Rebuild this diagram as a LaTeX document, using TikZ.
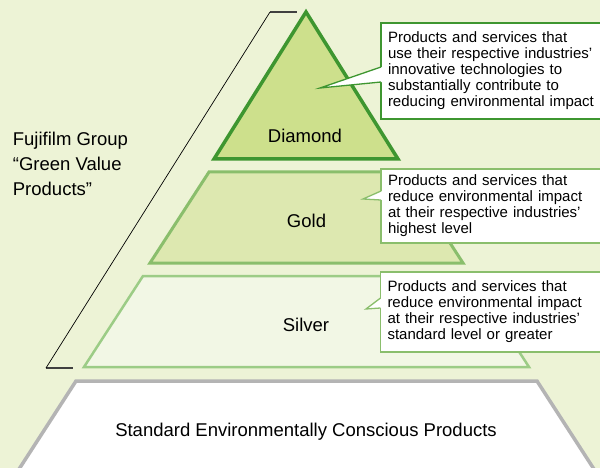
\documentclass[tikz,border=0pt]{standalone}
\usepackage{fontspec}
\setmainfont{Liberation Sans}
\usetikzlibrary{calc}
\definecolor{bgcol}{RGB}{237,243,214}
\definecolor{darkgr}{RGB}{62,150,48}
\definecolor{diafill}{RGB}{205,224,140}
\definecolor{goldline}{RGB}{138,190,108}
\definecolor{goldfill}{RGB}{221,232,176}
\definecolor{silvline}{RGB}{156,204,134}
\definecolor{silvfill}{RGB}{242,247,229}
\definecolor{basecol}{RGB}{180,180,180}
\tikzset{
  blurb/.style={draw, fill=white, line width=1.3pt, anchor=north west, outer sep=0pt,
    text width=210pt, inner xsep=7pt, inner ysep=9pt, align=left,
    font=\fontsize{15}{16}\selectfont},
  tag/.style={font=\fontsize{18.5}{25}\selectfont, anchor=base, inner sep=0pt},
}
\begin{document}
\begin{tikzpicture}[x=1pt,y=-1pt]
                    \useasboundingbox (0,0) rectangle (600,468);
                    \fill[bgcol] (0,0) rectangle (600,468);
                    \clip (0,0) rectangle (600,468);
                    % bracket
                    \draw[black!75, line width=1.3pt] (270,12) -- (297,12);
                    \draw[black!75, line width=1.3pt] (46,368) -- (73,368);
                    \draw[black, line width=0.7pt] (270,12) -- (46,368);
                    % tiers
                    \draw[basecol, fill=white, line width=3.5pt] (76,381) -- (537,381) -- (601,480) -- (12,480) -- cycle;
                    \draw[silvline, fill=silvfill, line width=2.5pt] (143,276) -- (470,276) -- (529,367) -- (84,367) -- cycle;
                    \draw[goldline, fill=goldfill, line width=3pt] (209,172) -- (404,172) -- (463,263) -- (150,263) -- cycle;
                    \draw[darkgr, fill=diafill, line width=3.5pt, line join=miter] (306,12) -- (398,159) -- (214,159) -- cycle;
                    % labels
                    \node[tag] (diamond) at (305,142.7) {Diamond};
                    \node[tag] (gold) at (306.5,227) {Gold};
                    \node[tag] (silver) at (306,331.7) {Silver};
                    \node[tag] (standard) at (306,436) {Standard Environmentally Conscious Products};
                    \node[tag, anchor=north west, align=left] (group) at (12.7,132.2) {Fujifilm Group\\“Green Value\\Products”};
                    % callouts
                    \node[blurb, draw=darkgr] (boxD) at (381,23) {Products and services that\\use their respective industries’\\innovative technologies to\\substantially contribute to\\reducing environmental impact};
                    \node[blurb, draw=goldline, inner ysep=6pt, yshift=-3pt] (boxG) at (381,166) {Products and services that\\reduce environmental impact\\at their respective industries’\\highest level};
                    \node[blurb, draw=goldline] (boxS) at (380.5,272) {Products and services that\\reduce environmental impact\\at their respective industries’\\standard level or greater};
                    \coordinate (tipD) at (320,88);
                    \coordinate (tipG) at (363,199);
                    \coordinate (tipS) at (366,309);
                    \fill[white] ($(boxD.north west)+(1.2,44)$) -- (tipD) -- ($(boxD.north west)+(1.2,59)$) -- cycle;
                    \draw[darkgr, line width=1.3pt] ($(boxD.north west)+(0,44)$) -- (tipD) -- ($(boxD.north west)+(0,59)$);
                    \fill[white] ($(boxG.north west)+(1.2,22)$) -- (tipG) -- ($(boxG.north west)+(1.2,31)$) -- cycle;
                    \draw[goldline, line width=1.3pt] ($(boxG.north west)+(0,22)$) -- (tipG) -- ($(boxG.north west)+(0,31)$);
                    \fill[white] ($(boxS.north west)+(1.2,26)$) -- (tipS) -- ($(boxS.north west)+(1.2,36)$) -- cycle;
                    \draw[goldline, line width=1.3pt] ($(boxS.north west)+(0,26)$) -- (tipS) -- ($(boxS.north west)+(0,36)$);
\end{tikzpicture}
\end{document}
